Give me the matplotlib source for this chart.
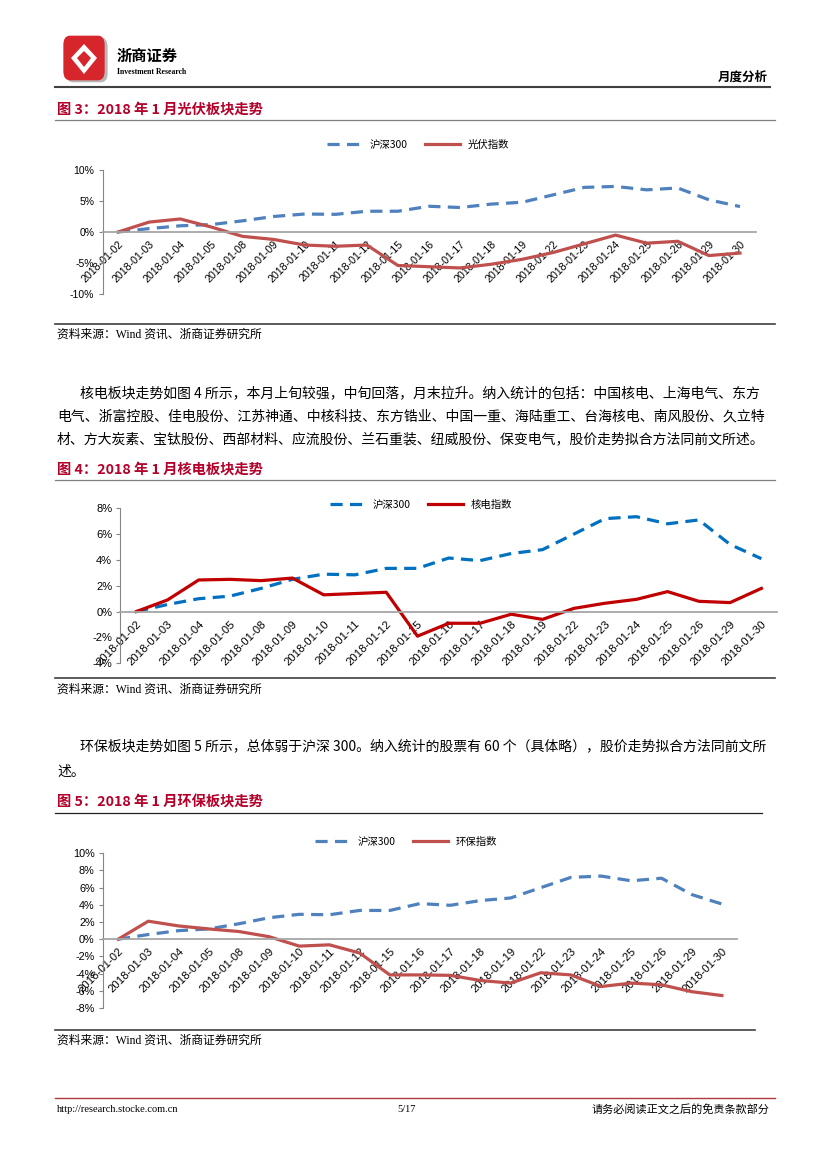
import numpy as np
import matplotlib.pyplot as plt
import matplotlib.transforms as mtransforms
from matplotlib.lines import Line2D
from matplotlib.patches import FancyBboxPatch, Polygon

W, H = 827, 1169

# data (percent change since 2018-01-02)
dates = ['2018-01-02', '2018-01-03', '2018-01-04', '2018-01-05', '2018-01-08',
         '2018-01-09', '2018-01-10', '2018-01-11', '2018-01-12', '2018-01-15',
         '2018-01-16', '2018-01-17', '2018-01-18', '2018-01-19', '2018-01-22',
         '2018-01-23', '2018-01-24', '2018-01-25', '2018-01-26', '2018-01-29',
         '2018-01-30']
hs300 = [0, 0.55, 1.0, 1.2, 1.8, 2.5, 2.9, 2.85, 3.35, 3.35, 4.15,
         3.95, 4.5, 4.8, 6.0, 7.2, 7.35, 6.8, 7.1, 5.2, 4.1]
pv_index = [0, 1.6, 2.1, 0.8, -0.7, -1.2, -2.1, -2.3, -2.1, -5.4, -5.6,
            -5.8, -5.2, -4.4, -3.3, -1.9, -0.5, -1.8, -1.5, -3.8, -3.4]
nuclear_index = [0, 0.9, 2.45, 2.5, 2.4, 2.6, 1.3, 1.4, 1.5, -1.9, -0.9,
                 -0.9, -0.2, -0.6, 0.25, 0.65, 0.95, 1.55, 0.8, 0.7, 1.8]
env_index = [0, 2.1, 1.55, 1.2, 0.9, 0.3, -0.8, -0.65, -1.6, -4.15, -4.15,
             -4.2, -4.8, -5.1, -3.9, -4.15, -5.5, -5.1, -5.3, -6.1, -6.55]

pct_ticks_1 = [-10, -5, 0, 5, 10]
pct_ticks_2 = [-4, -2, 0, 2, 4, 6, 8]
pct_ticks_3 = [-8, -6, -4, -2, 0, 2, 4, 6, 8, 10]

SANS = ['Liberation Sans', 'Noto Sans CJK SC']
CJK = ['Noto Sans CJK SC', 'DejaVu Sans']
SERIF = ['Liberation Serif', 'Noto Sans CJK SC']
TITLE_RED = '#B4002A'


def fx(x):
    return x / W


def fy(y):
    return 1 - y / H


fig = plt.figure(figsize=(8.27, 11.69), dpi=100)


def hline(y, x0, x1, color='#404040', lw=1.2):
    fig.add_artist(Line2D([fx(x0), fx(x1)], [fy(y), fy(y)], color=color, lw=lw))


def text(x, y, s, **kw):
    kw.setdefault('va', 'center')
    fig.text(fx(x), fy(y), s, **kw)


def draw_chart(box, ylim, yticks, idx, idx_name, blue, red, xsize, ysize, legend_xy):
    left, top, right, bottom = box
    ax = fig.add_axes([fx(left), fy(bottom), fx(right) - fx(left), (bottom - top) / H])
    # spines first: set_position resets the tick labels
    for s in ['top', 'right']:
        ax.spines[s].set_visible(False)
    ax.spines['bottom'].set_position(('data', 0))
    ax.spines['bottom'].set_color('#A6A6A6')
    ax.spines['bottom'].set_linewidth(1.3)
    ax.spines['left'].set_color('#868686')
    ax.spines['left'].set_linewidth(0.8)

    x = np.arange(len(dates))
    ax.plot(x, hs300, color=blue, lw=2.3, linestyle=(0, (3.8, 2.3)), label='沪深300')
    ax.plot(x, idx, color=red, lw=2.3, label=idx_name, solid_joinstyle='round')
    ax.set_xlim(-0.5, len(dates) - 0.5)
    ax.set_ylim(*ylim)
    ax.set_yticks(yticks)
    ax.set_yticklabels([f'{v}%' for v in yticks], fontsize=ysize, family=SANS)
    ax.set_xticks(x)
    ax.set_xticklabels(dates, fontsize=xsize, family=SANS, rotation=45,
                       ha='right', va='top', rotation_mode='anchor')
    shift = mtransforms.ScaledTranslation(0.05, 0, fig.dpi_scale_trans)
    for lab in ax.get_xticklabels():
        lab.set_transform(lab.get_transform() + shift)
    ax.tick_params(axis='x', length=0, pad=5)
    ax.tick_params(axis='y', length=3, width=0.8, color='#868686', pad=3)
    ax.patch.set_alpha(0)
    ax.legend(loc='center', bbox_to_anchor=(fx(legend_xy[0]), fy(legend_xy[1])),
              bbox_transform=fig.transFigure, ncol=2, frameon=False,
              prop=dict(family=CJK, size=7.5), handlelength=3.4,
              columnspacing=1.6, handletextpad=0.7)
    return ax


# ---- page header ----
fig.add_artist(FancyBboxPatch((fx(68), fy(80)), fx(38), 40 / H,
                              boxstyle='round,pad=0.002,rounding_size=0.008',
                              transform=fig.transFigure, fc='#B8B8B8', ec='none'))
fig.add_artist(FancyBboxPatch((fx(65), fy(78)), fx(38), 40 / H,
                              boxstyle='round,pad=0.002,rounding_size=0.008',
                              transform=fig.transFigure, fc='#D7262B', ec='none'))
logo_pts = [(84, 44), (97, 58), (84, 74), (71, 58)]
fig.add_artist(Polygon([(fx(a), fy(b)) for a, b in logo_pts], closed=True,
                       transform=fig.transFigure, fc='white', ec='none'))
logo_in = [(84, 51), (91, 58), (84, 67), (77, 58)]
fig.add_artist(Polygon([(fx(a), fy(b)) for a, b in logo_in], closed=True,
                       transform=fig.transFigure, fc='#D7262B', ec='none'))
text(117, 56, '浙商证券', family=CJK, fontsize=11, fontweight='bold')
text(117, 72, 'Investment Research', family=SERIF, fontsize=5.6, fontweight='bold')
text(768, 77, '月度分析', family=CJK, fontsize=9, fontweight='bold', ha='right')
hline(87, 55, 770, '#404040', 1.5)

title_kw = dict(family=CJK, fontsize=10.3, fontweight='bold', color=TITLE_RED)
source_kw = dict(family=SERIF, fontsize=8.5)
body = dict(family=CJK, fontsize=10)

# ---- figure 3 ----
text(57, 110, '图 3：2018 年 1 月光伏板块走势', **title_kw)
hline(120, 55, 775, '#808080', 0.9)
draw_chart((102.5, 170, 755.5, 294), (-10, 10), pct_ticks_1, pv_index, '光伏指数',
           '#4F81BD', '#C0504D', 7.7, 7.5, (418, 145))
hline(324, 55, 775)
text(57, 335, '资料来源：Wind 资讯、浙商证券研究所', **source_kw)

text(80, 393, '核电板块走势如图 4 所示，本月上旬较强，中旬回落，月末拉升。纳入统计的包括：中国核电、上海电气、东方', **body)
text(57, 416, '电气、浙富控股、佳电股份、江苏神通、中核科技、东方锆业、中国一重、海陆重工、台海核电、南风股份、久立特', **body)
text(57, 439, '材、方大炭素、宝钛股份、西部材料、应流股份、兰石重装、纽威股份、保变电气，股价走势拟合方法同前文所述。', **body)

# ---- figure 4 ----
text(57, 470, '图 4：2018 年 1 月核电板块走势', **title_kw)
hline(480, 55, 775, '#808080', 0.9)
draw_chart((120.5, 508.3, 777, 663.3), (-4, 8), pct_ticks_2, nuclear_index, '核电指数',
           '#0070C0', '#C00000', 8.2, 8, (421, 505))
hline(678, 55, 775)
text(57, 690, '资料来源：Wind 资讯、浙商证券研究所', **source_kw)

text(80, 746, '环保板块走势如图 5 所示，总体弱于沪深 300。纳入统计的股票有 60 个（具体略），股价走势拟合方法同前文所', **body)
text(57, 772, '述。', **body)

# ---- figure 5 ----
text(57, 803, '图 5：2018 年 1 月环保板块走势', **title_kw)
hline(813, 55, 762, '#202020', 0.9)
draw_chart((103, 853.3, 737, 1008), (-8, 10), pct_ticks_3, env_index, '环保指数',
           '#4F81BD', '#C0504D', 8.1, 7.8, (406, 842))
hline(1030, 55, 755)
text(57, 1041, '资料来源：Wind 资讯、浙商证券研究所', **source_kw)

# ---- footer ----
hline(1098, 55, 775, '#B03A3A', 1.0)
text(57, 1109, 'http://research.stocke.com.cn', family=SERIF, fontsize=7.5)
text(407, 1109, '5/17', family=SERIF, fontsize=7.5, ha='center')
text(770, 1109, '请务必阅读正文之后的免责条款部分', family=CJK, fontsize=8, ha='right')

fig.savefig('out.png', dpi=100)
